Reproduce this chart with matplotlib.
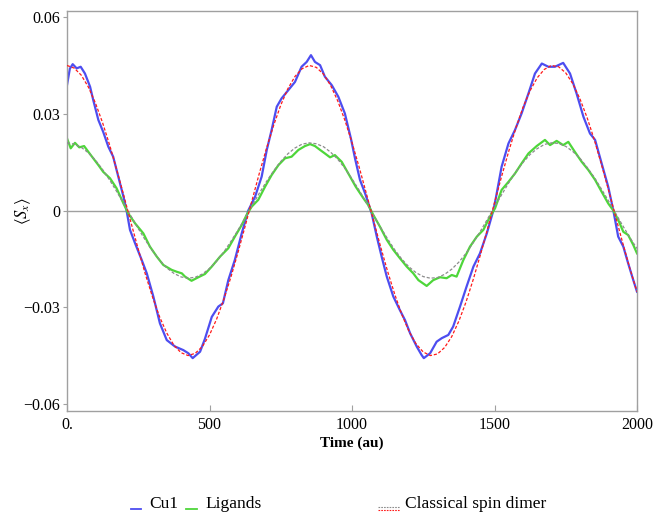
import matplotlib
matplotlib.use("Agg")
import matplotlib.pyplot as plt
from matplotlib.lines import Line2D

# ---------------- data ----------------
cu_t = [0, 10, 20, 34, 48, 63, 81, 92, 110, 127, 145, 162, 180, 198, 209, 221, 239, 262, 280,
        303, 326, 350, 379, 408, 426, 441, 467, 484, 508, 531, 547, 566, 589, 613, 636, 660,
        683, 701, 718, 736, 753, 777, 800, 823, 841, 856, 870, 888, 905, 929, 952, 975, 996,
        1011, 1028, 1046, 1069, 1087, 1104, 1122, 1145, 1168, 1186, 1204, 1227, 1244, 1252,
        1274, 1297, 1315, 1338, 1355, 1379, 1402, 1426, 1449, 1473, 1496, 1505, 1525, 1549,
        1572, 1595, 1619, 1642, 1666, 1689, 1712, 1741, 1765, 1788, 1812, 1835, 1853, 1876,
        1899, 1917, 1934, 1952, 1969, 1987, 2000]
cu_v = [0.0389, 0.0440, 0.0454, 0.0441, 0.0446, 0.0425, 0.0384, 0.0343, 0.0281, 0.0244,
        0.0198, 0.0167, 0.0105, 0.0043, 0.0000, -0.0060, -0.0102, -0.0153, -0.0195, -0.0267,
        -0.0350, -0.0402, -0.0422, -0.0433, -0.0443, -0.0458, -0.0438, -0.0398, -0.0330,
        -0.0298, -0.0288, -0.0216, -0.0153, -0.0071, 0.0000, 0.0043, 0.0105, 0.0188, 0.0250,
        0.0322, 0.0348, 0.0374, 0.0399, 0.0446, 0.0461, 0.0482, 0.0461, 0.0451, 0.0415,
        0.0389, 0.0353, 0.0301, 0.0224, 0.0160, 0.0095, 0.0053, -0.0009, -0.0081, -0.0143,
        -0.0205, -0.0267, -0.0309, -0.0340, -0.0381, -0.0422, -0.0448, -0.0458, -0.0443,
        -0.0407, -0.0396, -0.0386, -0.0360, -0.0298, -0.0236, -0.0174, -0.0133, -0.0071,
        0.0000, 0.0040, 0.0136, 0.0208, 0.0250, 0.0301, 0.0363, 0.0425, 0.0456, 0.0446,
        0.0446, 0.0458, 0.0425, 0.0363, 0.0291, 0.0239, 0.0219, 0.0146, 0.0074, 0.0000,
        -0.0081, -0.0112, -0.0164, -0.0216, -0.0252]

lig_t = [0, 13, 28, 43, 60, 75, 92, 110, 127, 151, 174, 198, 215, 239, 268, 291, 315, 338,
         367, 385, 403, 414, 437, 461, 484, 508, 537, 566, 589, 613, 630, 648, 671, 695, 718,
         742, 765, 788, 812, 835, 853, 870, 888, 905, 923, 940, 964, 987, 1013, 1040, 1057,
         1075, 1098, 1122, 1145, 1168, 1192, 1215, 1233, 1262, 1285, 1309, 1332, 1350, 1367,
         1391, 1414, 1438, 1461, 1484, 1502, 1525, 1549, 1572, 1595, 1619, 1648, 1677, 1695,
         1718, 1741, 1759, 1782, 1806, 1829, 1853, 1876, 1899, 1917, 1934, 1952, 1969, 1987,
         2000]
lig_v = [0.0224, 0.0193, 0.0210, 0.0196, 0.0200, 0.0182, 0.0162, 0.0141, 0.0120, 0.0100,
         0.0069, 0.0022, -0.0009, -0.0040, -0.0071, -0.0112, -0.0143, -0.0169, -0.0184,
         -0.0190, -0.0195, -0.0205, -0.0218, -0.0207, -0.0197, -0.0174, -0.0143, -0.0117,
         -0.0081, -0.0045, -0.0014, 0.0012, 0.0033, 0.0074, 0.0110, 0.0141, 0.0162, 0.0167,
         0.0188, 0.0200, 0.0206, 0.0200, 0.0188, 0.0177, 0.0165, 0.0172, 0.0151, 0.0115,
         0.0074, 0.0038, 0.0017, -0.0014, -0.0050, -0.0091, -0.0122, -0.0148, -0.0174,
         -0.0195, -0.0216, -0.0234, -0.0216, -0.0207, -0.0210, -0.0200, -0.0205, -0.0153,
         -0.0112, -0.0081, -0.0060, -0.0019, 0.0007, 0.0064, 0.0089, 0.0115, 0.0146, 0.0177,
         0.0200, 0.0219, 0.0203, 0.0216, 0.0203, 0.0213, 0.0182, 0.0151, 0.0126, 0.0095,
         0.0058, 0.0022, 0.0000, -0.0029, -0.0066, -0.0076, -0.0107, -0.0133]

cl_t = list(range(0, 2001, 25))
cl_cu = [0.0450, 0.0442, 0.0420, 0.0383, 0.0333, 0.0272, 0.0202, 0.0125, 0.0044, -0.0039,
         -0.0120, -0.0198, -0.0268, -0.0330, -0.0380, -0.0418, -0.0441, -0.0450, -0.0443,
         -0.0422, -0.0386, -0.0337, -0.0276, -0.0207, -0.0130, -0.0049, 0.0034, 0.0116,
         0.0193, 0.0264, 0.0327, 0.0378, 0.0416, 0.0440, 0.0450, 0.0444, 0.0423, 0.0388,
         0.0340, 0.0280, 0.0211, 0.0135, 0.0054, -0.0029, -0.0111, -0.0189, -0.0260, -0.0323,
         -0.0375, -0.0414, -0.0439, -0.0450, -0.0445, -0.0425, -0.0391, -0.0343, -0.0284,
         -0.0215, -0.0139, -0.0059, 0.0024, 0.0106, 0.0184, 0.0256, 0.0320, 0.0372, 0.0412,
         0.0438, 0.0450, 0.0446, 0.0427, 0.0393, 0.0346, 0.0288, 0.0220, 0.0144, 0.0064,
         -0.0019, -0.0101, -0.0180, -0.0252]
cl_lig = [0.0210, 0.0206, 0.0196, 0.0179, 0.0156, 0.0127, 0.0094, 0.0058, 0.0020, -0.0018,
          -0.0056, -0.0092, -0.0125, -0.0154, -0.0178, -0.0195, -0.0206, -0.0210, -0.0207,
          -0.0197, -0.0180, -0.0157, -0.0129, -0.0096, -0.0061, -0.0023, 0.0016, 0.0054,
          0.0090, 0.0123, 0.0152, 0.0176, 0.0194, 0.0206, 0.0210, 0.0207, 0.0198, 0.0181,
          0.0159, 0.0131, 0.0098, 0.0063, 0.0025, -0.0014, -0.0052, -0.0088, -0.0122, -0.0151,
          -0.0175, -0.0193, -0.0205, -0.0210, -0.0208, -0.0198, -0.0182, -0.0160, -0.0133,
          -0.0100, -0.0065, -0.0027, 0.0011, 0.0049, 0.0086, 0.0120, 0.0149, 0.0174, 0.0192,
          0.0205, 0.0210, 0.0208, 0.0199, 0.0183, 0.0162, 0.0134, 0.0103, 0.0067, 0.0030,
          -0.0009, -0.0047, -0.0084, -0.0118]

xticks = [0, 500, 1000, 1500, 2000]
xtick_labels = ["0.", "500", "1000", "1500", "2000"]
yticks = [-0.06, -0.03, 0.0, 0.03, 0.06]
ytick_labels = ["\u22120.06", "\u22120.03", "0", "0.03", "0.06"]

# ---------------- styling ----------------
plt.rcParams["font.family"] = ["Liberation Serif", "DejaVu Serif"]
plt.rcParams["mathtext.fontset"] = "stix"
plt.rcParams["font.size"] = 11

BLUE = "#4d4df0"
GREEN = "#4ed63a"
RED = "#ff1a1a"
GRAY = "#8c8c8c"
FRAME = "#a0a0a0"

fig = plt.figure(figsize=(6.54, 5.14), dpi=100)
ax = fig.add_axes([67 / 654, 1 - 411 / 514, 570 / 654, 400 / 514])

ax.axhline(0, color=FRAME, lw=1.0, zorder=1)
ax.plot(cu_t, cu_v, color=BLUE, lw=1.6, zorder=2, solid_joinstyle="round")
ax.plot(lig_t, lig_v, color=GREEN, lw=1.6, zorder=2, solid_joinstyle="round")
ax.plot(cl_t, cl_lig, color=GRAY, lw=0.9, dashes=(2.5, 1.5), zorder=3)
ax.plot(cl_t, cl_cu, color=RED, lw=0.9, dashes=(2.5, 1.5), zorder=3)

ax.set_xlim(0, 2000)
ax.set_ylim(-0.0622, 0.0619)
ax.set_xticks(xticks)
ax.set_xticklabels(xtick_labels)
ax.set_yticks(yticks)
ax.set_yticklabels(ytick_labels)
for s in ax.spines.values():
    s.set_color(FRAME)
    s.set_linewidth(1.0)
ax.tick_params(axis="x", direction="in", length=4, width=0.8, color=FRAME, pad=4, labelsize=11.5)
ax.tick_params(axis="y", direction="out", length=3, width=0.8, color=FRAME, pad=2, labelsize=11.5)

ax.set_xlabel("Time (au)", fontweight="bold", fontsize=11, labelpad=3)
ax.set_ylabel(r"$\langle S_x\rangle$", fontsize=12)
ax.yaxis.set_label_coords((33 - 67) / 570, 0.5)

# ---------------- legend (bottom) ----------------
def fx(px):
    return px / 654

def fy(py):
    return 1 - py / 514

LFS = 12.5
fig.add_artist(Line2D([fx(131), fx(141)], [fy(509), fy(509)], color=BLUE, lw=1.3))
fig.text(fx(149), fy(504), "Cu1", va="center", ha="left", fontsize=LFS)
fig.add_artist(Line2D([fx(186), fx(197)], [fy(509), fy(509)], color=GREEN, lw=1.3))
fig.text(fx(205), fy(504), "Ligands", va="center", ha="left", fontsize=LFS)
fig.add_artist(Line2D([fx(378), fx(400)], [fy(506.5), fy(506.5)], color=GRAY, lw=0.8,
                      dashes=(1.5, 1.0)))
fig.add_artist(Line2D([fx(378), fx(400)], [fy(509.5), fy(509.5)], color=RED, lw=0.8,
                      dashes=(1.5, 1.0)))
fig.text(fx(405), fy(504), "Classical spin dimer", va="center", ha="left", fontsize=LFS)

fig.savefig("out.png", dpi=100)
